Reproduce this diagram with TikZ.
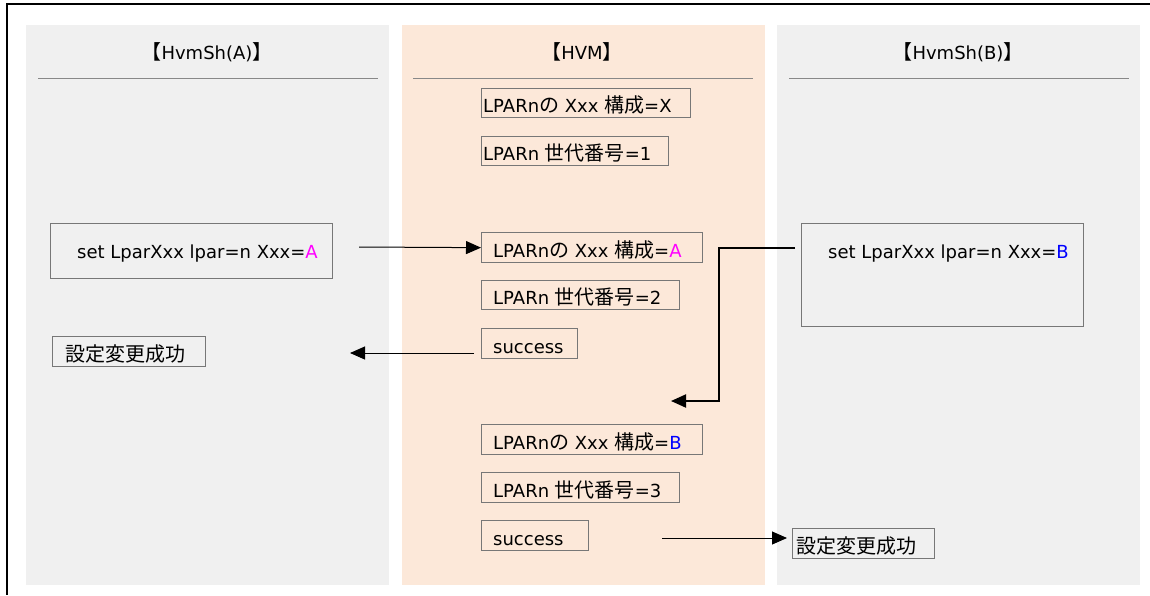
\documentclass[tikz,border=0pt]{standalone}
\usepackage{fontspec}
\setmainfont{DejaVu Sans}
\newfontfamily\jpf{Noto Sans CJK JP}
\newcommand\jp[1]{{\jpf\fontsize{20}{22}\selectfont #1}}
\usetikzlibrary{arrows.meta}
\definecolor{panelgray}{HTML}{F0F0F0}
\definecolor{panelpeach}{HTML}{FCE8D9}
\definecolor{boxgray}{HTML}{777777}
\definecolor{rulegray}{HTML}{888888}
\definecolor{magA}{HTML}{FF00FF}
\definecolor{bluB}{HTML}{0000FF}
\tikzset{
  panel/.style={rectangle, inner sep=0pt, anchor=north west, draw=none},
  bx/.style={rectangle, draw=boxgray, line width=1.3pt, inner sep=0pt, anchor=north west},
  txt/.style={inner sep=0pt, anchor=base west},
  hdr/.style={inner sep=0pt},
  rulel/.style={draw=rulegray, line width=1pt},
  conn/.style={draw=black, line width=1pt, -{Triangle[length=15pt,width=13pt]}},
  connthick/.style={draw=black, line width=2pt, -{Triangle[length=15pt,width=13pt]}},
}
\begin{document}
\begin{tikzpicture}[x=1pt,y=-1pt,font=\fontsize{18}{21}\selectfont]
\useasboundingbox (0,0) rectangle (1150,595);
% panels
\node[panel, fill=panelgray, minimum width=363pt, minimum height=560pt] (pA) at (26,25) {};
\node[panel, fill=panelpeach, minimum width=363pt, minimum height=560pt] (pM) at (402,25) {};
\node[panel, fill=panelgray, minimum width=363pt, minimum height=560pt] (pB) at (777,25) {};
% frame
\draw[line width=2pt] (6,4) -- (1150,4);
\draw[line width=2pt] (6.7,4) -- (6.7,595);
% headers
\node[hdr] (hA) at (207,52) {\jp{【}HvmSh(A)\jp{】}};
\node[hdr] (hM) at (582,52) {\jp{【}HVM\jp{】}};
\node[hdr] (hB) at (958,52) {\jp{【}HvmSh(B)\jp{】}};
\draw[rulel] (38,78) -- (378,78);
\draw[rulel] (413,78) -- (753,78);
\draw[rulel] (789,78) -- (1129,78);
% middle boxes
\node[bx, minimum width=209pt, minimum height=29pt] (m1) at (481,88) {};
\node[txt] (m1t) at ([xshift=2pt,yshift=6pt]m1.south west) {LPARn\jp{の} Xxx \jp{構成}=X};
\node[bx, minimum width=187pt, minimum height=29pt] (m2) at (481,136) {};
\node[txt] (m2t) at ([xshift=2pt,yshift=6pt]m2.south west) {LPARn \jp{世代番号}=1};
\node[bx, minimum width=221pt, minimum height=30pt] (m3) at (481,232) {};
\node[txt] (m3t) at ([xshift=12pt,yshift=6pt]m3.south west) {LPARn\jp{の} Xxx \jp{構成}=\textcolor{magA}{A}};
\node[bx, minimum width=198pt, minimum height=29pt] (m4) at (481,280) {};
\node[txt] (m4t) at ([xshift=12pt,yshift=6pt]m4.south west) {LPARn \jp{世代番号}=2};
\node[bx, minimum width=96pt, minimum height=30pt] (m5) at (481,328) {};
\node[txt] (m5t) at ([xshift=12pt,yshift=6pt]m5.south west) {success};
\node[bx, minimum width=221pt, minimum height=30pt] (m6) at (481,424) {};
\node[txt] (m6t) at ([xshift=12pt,yshift=6pt]m6.south west) {LPARn\jp{の} Xxx \jp{構成}=\textcolor{bluB}{B}};
\node[bx, minimum width=198pt, minimum height=30pt] (m7) at (481,472) {};
\node[txt] (m7t) at ([xshift=12pt,yshift=6pt]m7.south west) {LPARn \jp{世代番号}=3};
\node[bx, minimum width=107pt, minimum height=30pt] (m8) at (481,520) {};
\node[txt] (m8t) at ([xshift=12pt,yshift=6pt]m8.south west) {success};
% left column
\node[bx, minimum width=282pt, minimum height=55pt] (sA) at (50,223) {};
\node[txt] (sAt) at (77,258) {set LparXxx lpar=n Xxx=\textcolor{magA}{A}};
\node[bx, minimum width=153pt, minimum height=30pt] (okA) at (52,336) {};
\node[txt] (okAt) at ([xshift=13pt,yshift=6pt]okA.south west) {\jp{設定変更成功}};
% right column
\node[bx, minimum width=282pt, minimum height=103pt] (sB) at (801,223) {};
\node[txt] (sBt) at (828,258) {set LparXxx lpar=n Xxx=\textcolor{bluB}{B}};
\node[bx, minimum width=142pt, minimum height=30pt] (okB) at (792,528) {};
\node[txt] (okBt) at ([xshift=4pt,yshift=6pt]okB.south west) {\jp{設定変更成功}};
% connector end points
\coordinate (a1s) at (359,247);
\coordinate (a2s) at (474,353);
\coordinate (a2e) at (350,353);
\coordinate (a3s) at (795,248);
\coordinate (a3c) at (719,401);
\coordinate (a3e) at (671,401);
\coordinate (a4s) at (662,538);
\coordinate (a4e) at (787,538);
% connectors
\draw[conn] (a1s) -- (m3.west);
\draw[conn] (a2s) -- (a2e);
\draw[connthick] (a3s) -| (a3c) -- (a3e);
\draw[conn] (a4s) -- (a4e);
\end{tikzpicture}
\end{document}
